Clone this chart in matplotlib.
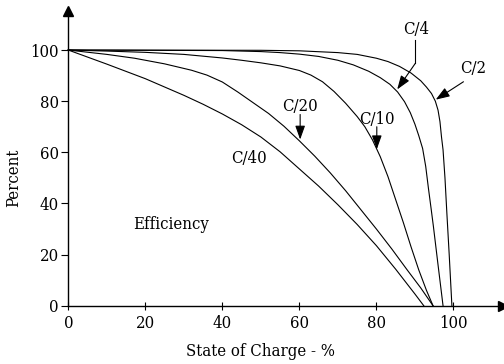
import matplotlib
matplotlib.use("Agg")
import matplotlib.pyplot as plt

# curves (state of charge %, efficiency %)
c40_x = [0, 10, 20, 30, 35, 40, 45, 50, 55, 60, 65, 70, 75, 80, 85, 90, 92.3]
c40_y = [100, 94.5, 88.8, 82.3, 78.8, 75, 70.8, 66, 60.2, 53.5, 46.8, 39.5, 31.8, 23.5, 14.3, 4.6, 0]

c20_x = [0, 10, 17.2, 25, 32, 36, 40, 44, 48, 52, 56, 60, 64, 68, 72, 76, 80, 84, 88, 91.5, 94.7]
c20_y = [100, 98.3, 96.8, 94.6, 92.1, 90.2, 87.5, 83.6, 79.4, 75.2, 70.2, 64.5, 58.5, 52, 45, 37.5,
         30, 22.2, 14, 7, 0]

c10_x = [0, 10, 20, 30, 40, 45, 50, 55, 60, 63, 66, 69, 72, 75, 77, 79, 81, 83, 85, 87, 89, 91, 93, 94.7]
c10_y = [100, 99.6, 99.1, 98.3, 96.9, 96, 95, 93.8, 92, 90.2, 87.6, 83.8, 79.2, 74, 70, 64.8, 58.3,
         50.5, 41.5, 32.5, 23, 14, 6, 0]

c4_x = [0, 40, 50, 55, 60, 65, 70, 74, 78, 81, 83.5, 85.5, 87.3, 88.8, 90, 91, 92, 92.8, 93.5, 94.2,
        94.8, 96, 97.3]
c4_y = [100, 99.8, 99.4, 99, 98.4, 97.5, 96, 94.2, 91.7, 89.2, 86.6, 83.6, 79.8, 75.5, 71, 66.5, 61.5,
        54.5, 46, 38, 31, 16, 0]

c2_x = [0, 50, 60, 70, 75, 80, 83, 86, 89, 91.5, 93, 94.3, 95.3, 96.0, 96.5, 96.9, 97.3, 97.8, 98.3,
        98.9, 99.6]
c2_y = [100, 99.9, 99.7, 99, 98.3, 96.8, 95.5, 93.6, 91, 88, 85.5, 83, 80, 76.5, 72, 66, 61, 50, 36,
        20, 0]

x_ticks = [0, 20, 40, 60, 80, 100]
y_ticks = [0, 20, 40, 60, 80, 100]

font = dict(family="DejaVu Serif", fontstretch="condensed")

fig = plt.figure(figsize=(5.04, 3.64), dpi=100)
ax = fig.add_axes([0.1355, 0.160, 0.862, 0.81])

for xs, ys in [(c40_x, c40_y), (c20_x, c20_y), (c10_x, c10_y), (c4_x, c4_y), (c2_x, c2_y)]:
    ax.plot(xs, ys, color="black", lw=0.8, clip_on=False, solid_joinstyle="round")

ax.set_xlim(0, 112.8)
ax.set_ylim(0, 115.3)
ax.spines["top"].set_visible(False)
ax.spines["right"].set_visible(False)
for s in ["left", "bottom"]:
    ax.spines[s].set_linewidth(1.0)

ax.set_xticks(x_ticks)
ax.set_yticks(y_ticks)
ax.set_xticklabels([str(v) for v in x_ticks], fontsize=12, **font)
ax.set_yticklabels([str(v) for v in y_ticks], fontsize=12, **font)
ax.tick_params(axis="x", direction="inout", length=6, width=0.8, pad=4)
ax.tick_params(axis="y", direction="out", length=5, width=0.8, pad=2)

# arrow heads on the axes
ax.plot(1, 0, ">k", ms=7, transform=ax.transAxes, clip_on=False)
ax.plot(0, 1, "^k", ms=7, transform=ax.transAxes, clip_on=False)

ax.set_xlabel("State of Charge - %", fontsize=12, **font)
ax.set_ylabel("Percent", fontsize=12, **font)
ax.xaxis.set_label_coords(0.443, -0.125)
ax.yaxis.set_label_coords(-0.107, 0.434)

ap = dict(arrowstyle="-|>,head_length=0.7,head_width=0.25", color="black", lw=0.8,
          shrinkA=0, shrinkB=0, mutation_scale=12)

ax.text(90.2, 108.1, "C/4", ha="center", va="center", fontsize=12, **font)
ax.plot([90.1, 90.1], [104.0, 94.8], color="black", lw=0.8)
ax.annotate("", xy=(85.4, 84.6), xytext=(90.1, 94.8), arrowprops=ap)

ax.text(105.2, 92.8, "C/2", ha="center", va="center", fontsize=12, **font)
ax.annotate("", xy=(95.4, 80.6), xytext=(102.6, 87.6), arrowprops=ap, annotation_clip=False)

ax.text(60.2, 77.8, "C/20", ha="center", va="center", fontsize=12, **font)
ax.annotate("", xy=(60.2, 65.0), xytext=(60.2, 74.8), arrowprops=ap)

ax.text(80.1, 73.0, "C/10", ha="center", va="center", fontsize=12, **font)
ax.annotate("", xy=(80.1, 61.2), xytext=(80.1, 70.0), arrowprops=ap)

ax.text(46.8, 57.6, "C/40", ha="center", va="center", fontsize=12, **font)
ax.text(26.8, 31.6, "Efficiency", ha="center", va="center", fontsize=12, **font)

fig.savefig("out.png", dpi=100)
